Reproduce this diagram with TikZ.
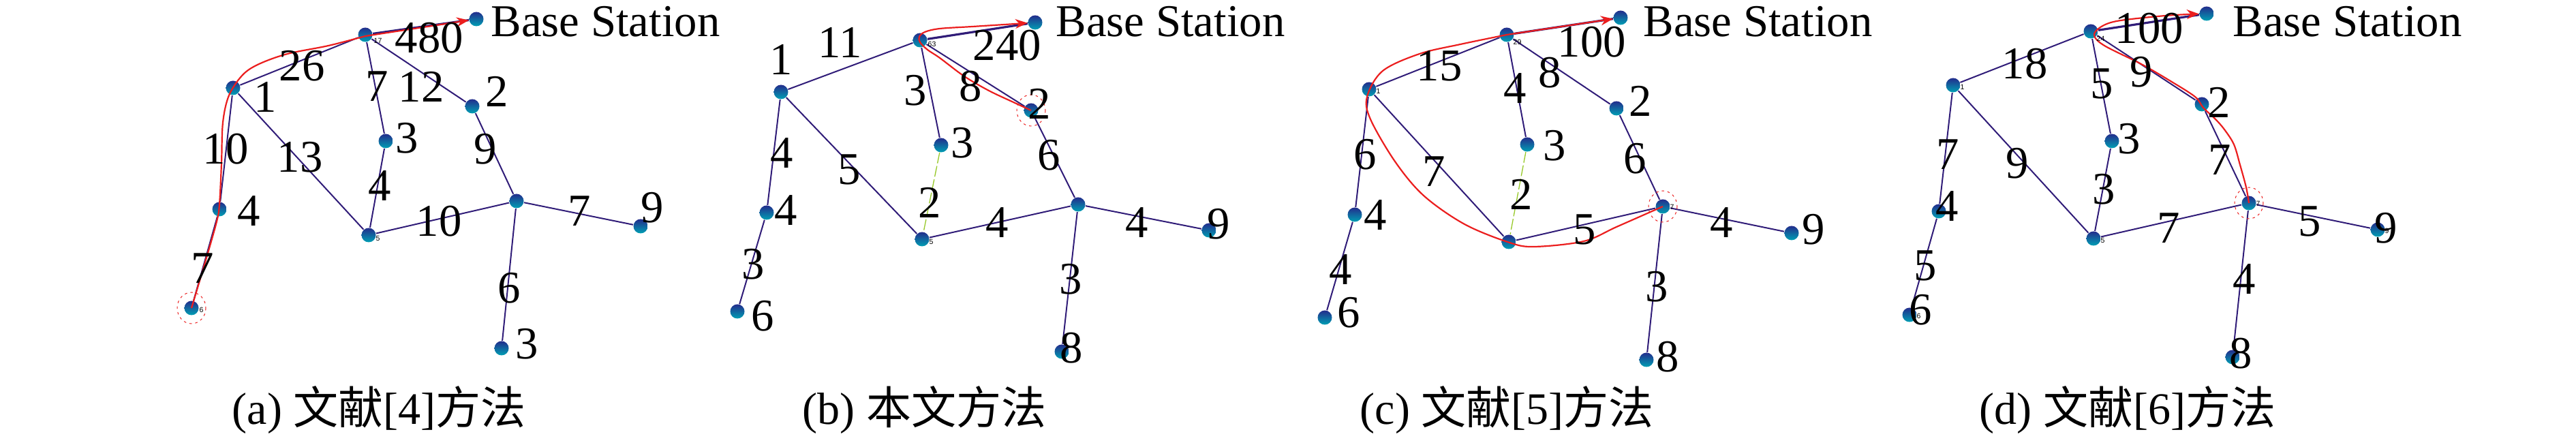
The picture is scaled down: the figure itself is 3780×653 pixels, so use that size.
\documentclass[tikz,border=0pt]{standalone}
\usepackage{fontspec}
\setmainfont{Liberation Serif}
\newfontfamily\cjkfont{Noto Sans CJK SC}
\newfontfamily\idfont{Liberation Sans}
\usetikzlibrary{arrows.meta}
\definecolor{edgecol}{RGB}{48,28,120}
\definecolor{routecol}{RGB}{235,30,30}
\definecolor{greenedge}{RGB}{150,200,40}
\definecolor{balltop}{RGB}{35,45,140}
\definecolor{ballmid}{RGB}{50,80,175}
\definecolor{ballbot}{RGB}{0,160,180}
\tikzset{
  sensor/.style={circle, inner sep=0pt, minimum size=2.1mm, top color=balltop, middle color=ballmid, bottom color=ballbot},
  link/.style={draw=edgecol, line width=0.2mm},
  bslink/.style={draw=edgecol, line width=0.32mm},
  glink/.style={draw=greenedge, line width=0.13mm, dash pattern=on 1.6mm off 0.4mm},
  route/.style={draw=routecol, line width=0.22mm, -{Stealth[length=1.8mm,width=1.4mm]}},
  srcring/.style={draw=routecol, line width=0.1mm, dash pattern=on 0.35mm off 0.5mm},
  lbl/.style={font=\fontsize{19}{19}\selectfont, inner sep=0pt},
  captext/.style={font=\fontsize{18.8}{18.8}\selectfont, inner sep=0pt},
  tid/.style={font=\idfont\fontsize{3}{3}\selectfont, inner sep=0pt}
}
\begin{document}
\begin{tikzpicture}[x=0.1mm,y=-0.1mm]
\useasboundingbox (0,0) rectangle (3780,653);

% ---------------- panel (a) ----------------
\node[sensor] (abs) at (699,28) {};
\node[sensor] (ah) at (536,51) {};
\node[sensor] (a1) at (342,129) {};
\node[sensor] (a4) at (322,307) {};
\node[sensor] (a6) at (281,452) {};
\node[sensor] (a2) at (693,156) {};
\node[sensor] (a3) at (566,207) {};
\node[sensor] (a5) at (541,345) {};
\node[sensor] (a7) at (758,295) {};
\node[sensor] (a9) at (940,332) {};
\node[sensor] (a8) at (736,511) {};
\path[bslink] (ah) -- (abs);
\path[link] (ah) -- (a1);
\path[link] (ah) -- (a3);
\path[link] (ah) -- (a2);
\path[link] (a1) -- (a4);
\path[link] (a1) -- (a5);
\path[link] (a4) -- (a6);
\path[link] (a3) -- (a5);
\path[link] (a2) -- (a7);
\path[link] (a5) -- (a7);
\path[link] (a7) -- (a9);
\path[link] (a7) -- (a8);
\path[route] plot[smooth, tension=0.55] coordinates {(a6.center) (301,385) (318,325) (322,300) (325,240) (327,180) (336,140) (356,110) (380,94) (422,79) (482,67) (536,53)} -- (abs);
\draw[srcring] (a6) ellipse (21 and 23);
\node[tid, anchor=west] (ta1) at (548,60) {17};
\node[tid, anchor=west] (ta2) at (292,455) {6};
\node[tid, anchor=west] (ta3) at (551,350) {5};
\node[lbl, anchor=base west] (absl) at (720,54) {Base Station};
\node[lbl] (la1) at (630,56) {480};
\node[lbl] (la2) at (443,97) {26};
\node[lbl] (la3) at (389,142) {1};
\node[lbl] (la4) at (553,127) {7};
\node[lbl] (la5) at (618,127) {12};
\node[lbl] (la6) at (729,134) {2};
\node[lbl] (la7) at (597,203) {3};
\node[lbl] (la8) at (331,219) {10};
\node[lbl] (la9) at (440,231) {13};
\node[lbl] (la10) at (712,219) {9};
\node[lbl] (la11) at (557,273) {4};
\node[lbl] (la12) at (365,310) {4};
\node[lbl] (la13) at (644,325) {10};
\node[lbl] (la14) at (850,310) {7};
\node[lbl] (la15) at (957,305) {9};
\node[lbl] (la16) at (297,394) {7};
\node[lbl] (la17) at (747,423) {6};
\node[lbl] (la18) at (773,505) {3};
\node[captext, anchor=base west] (capa) at (340,623) {(a) {\cjkfont 文献}[4]{\cjkfont 方法}};

% ---------------- panel (b) ----------------
\node[sensor] (bbs) at (1519,33) {};
\node[sensor] (bh) at (1350,59) {};
\node[sensor] (b1) at (1146,135) {};
\node[sensor] (b4) at (1125,312) {};
\node[sensor] (b6) at (1082,457) {};
\node[sensor] (b2) at (1513,162) {};
\node[sensor] (b3) at (1381,213) {};
\node[sensor] (b5) at (1353,351) {};
\node[sensor] (b7) at (1582,300) {};
\node[sensor] (b9) at (1774,338) {};
\node[sensor] (b8) at (1558,516) {};
\path[bslink] (bh) -- (bbs);
\path[link] (bh) -- (b1);
\path[link] (bh) -- (b3);
\path[link] (bh) -- (b2);
\path[link] (b1) -- (b4);
\path[link] (b1) -- (b5);
\path[link] (b4) -- (b6);
\path[glink] (b3) -- (b5);
\path[link] (b2) -- (b7);
\path[link] (b5) -- (b7);
\path[link] (b7) -- (b9);
\path[link] (b7) -- (b8);
\path[route] plot[smooth, tension=0.55] coordinates {(b2.center) (1487,150) (1451,133) (1415,112) (1379,85) (1361,73) (1350,62) (1349,54) (1357,47) (1379,42) (1427,39) (1490,35)} -- (bbs);
\draw[srcring] (b2) ellipse (21 and 23);
\node[tid, anchor=west] (tb1) at (1361,65) {63};
\node[tid, anchor=west] (tb2) at (1363,355) {5};
\node[lbl, anchor=base west] (bbsl) at (1549,54) {Base Station};
\node[lbl] (lb1) at (1233,62) {11};
\node[lbl] (lb2) at (1146,87) {1};
\node[lbl] (lb3) at (1478,67) {240};
\node[lbl] (lb4) at (1343,133) {3};
\node[lbl] (lb5) at (1424,127) {8};
\node[lbl] (lb6) at (1525,152) {2};
\node[lbl] (lb7) at (1412,210) {3};
\node[lbl] (lb8) at (1147,225) {4};
\node[lbl] (lb9) at (1246,249) {5};
\node[lbl] (lb10) at (1539,228) {6};
\node[lbl] (lb11) at (1364,297) {2};
\node[lbl] (lb12) at (1153,309) {4};
\node[lbl] (lb13) at (1463,327) {4};
\node[lbl] (lb14) at (1668,327) {4};
\node[lbl] (lb15) at (1788,329) {9};
\node[lbl] (lb16) at (1105,388) {3};
\node[lbl] (lb17) at (1119,464) {6};
\node[lbl] (lb18) at (1571,410) {3};
\node[lbl] (lb19) at (1572,511) {8};
\node[captext, anchor=base west] (capb) at (1177,623) {(b) {\cjkfont 本文方法}};

% ---------------- panel (c) ----------------
\node[sensor] (cbs) at (2378,26) {};
\node[sensor] (ch) at (2211,51) {};
\node[sensor] (c1) at (2009,131) {};
\node[sensor] (c4) at (1988,315) {};
\node[sensor] (c6) at (1944,466) {};
\node[sensor] (c2) at (2372,159) {};
\node[sensor] (c3) at (2241,212) {};
\node[sensor] (c5) at (2214,355) {};
\node[sensor] (c7) at (2440,303) {};
\node[sensor] (c9) at (2629,342) {};
\node[sensor] (c8) at (2416,528) {};
\path[bslink] (ch) -- (cbs);
\path[link] (ch) -- (c1);
\path[link] (ch) -- (c3);
\path[link] (ch) -- (c2);
\path[link] (c1) -- (c4);
\path[link] (c1) -- (c5);
\path[link] (c4) -- (c6);
\path[glink] (c3) -- (c5);
\path[link] (c2) -- (c7);
\path[link] (c5) -- (c7);
\path[link] (c7) -- (c9);
\path[link] (c7) -- (c8);
\path[route] plot[smooth, tension=0.55] coordinates {(c7.center) (2372,333) (2324,354) (2252,362) (2215,356) (2149,329) (2089,287) (2047,237) (2011,175) (2006,142) (2029,104) (2083,79) (2143,65) (2211,51)} -- (cbs);
\draw[srcring] (c7) ellipse (21 and 23);
\node[tid, anchor=west] (tc1) at (2220,62) {29};
\node[tid, anchor=west] (tc2) at (2019,134) {1};
\node[tid, anchor=west] (tc3) at (2450,304) {7};
\node[lbl, anchor=base west] (cbsl) at (2411,54) {Base Station};
\node[lbl] (lc1) at (2336,62) {100};
\node[lbl] (lc2) at (2112,97) {15};
\node[lbl] (lc3) at (2223,130) {4};
\node[lbl] (lc4) at (2274,107) {8};
\node[lbl] (lc5) at (2407,148) {2};
\node[lbl] (lc6) at (2281,214) {3};
\node[lbl] (lc7) at (2003,227) {6};
\node[lbl] (lc8) at (2104,252) {7};
\node[lbl] (lc9) at (2399,233) {6};
\node[lbl] (lc10) at (2232,285) {2};
\node[lbl] (lc11) at (2018,316) {4};
\node[lbl] (lc12) at (2325,337) {5};
\node[lbl] (lc13) at (2526,327) {4};
\node[lbl] (lc14) at (2661,337) {9};
\node[lbl] (lc15) at (1967,396) {4};
\node[lbl] (lc16) at (1979,459) {6};
\node[lbl] (lc17) at (2431,421) {3};
\node[lbl] (lc18) at (2447,524) {8};
\node[captext, anchor=base west] (capc) at (1995,623) {(c) {\cjkfont 文献}[5]{\cjkfont 方法}};

% ---------------- panel (d) ----------------
\node[sensor] (dbs) at (3238,20) {};
\node[sensor] (dh) at (3068,46) {};
\node[sensor] (d1) at (2866,125) {};
\node[sensor] (d4) at (2845,310) {};
\node[sensor] (d6) at (2802,462) {};
\node[sensor] (d2) at (3231,153) {};
\node[sensor] (d3) at (3099,207) {};
\node[sensor] (d5) at (3072,350) {};
\node[sensor] (d7) at (3300,298) {};
\node[sensor] (d9) at (3489,337) {};
\node[sensor] (d8) at (3276,524) {};
\path[bslink] (dh) -- (dbs);
\path[link] (dh) -- (d1);
\path[link] (dh) -- (d3);
\path[link] (dh) -- (d2);
\path[link] (d1) -- (d4);
\path[link] (d1) -- (d5);
\path[link] (d4) -- (d6);
\path[link] (d3) -- (d5);
\path[link] (d2) -- (d7);
\path[link] (d5) -- (d7);
\path[link] (d7) -- (d9);
\path[link] (d7) -- (d8);
\path[route] plot[smooth, tension=0.55] coordinates {(d7.center) (3296,275) (3287,242) (3278,212) (3264,190) (3251,175) (3233,158) (3221,142) (3185,119) (3142,94) (3088,67) (3073,52) (3082,40) (3106,31) (3166,24) (3210,21)} -- (dbs);
\draw[srcring] (d7) ellipse (21 and 23);
\node[tid, anchor=west] (td1) at (3076,57) {24};
\node[tid, anchor=west] (td2) at (2876,128) {1};
\node[tid, anchor=west] (td3) at (3082,353) {5};
\node[tid, anchor=west] (td4) at (2812,464) {6};
\node[tid, anchor=west] (td5) at (3310,299) {7};
\node[tid, anchor=west] (td6) at (3499,339) {9};
\node[lbl, anchor=base west] (dbsl) at (3276,54) {Base Station};
\node[lbl] (ld1) at (3154,42) {100};
\node[lbl] (ld2) at (2971,94) {18};
\node[lbl] (ld3) at (3084,123) {5};
\node[lbl] (ld4) at (3142,106) {9};
\node[lbl] (ld5) at (3256,150) {2};
\node[lbl] (ld6) at (3124,204) {3};
\node[lbl] (ld7) at (2858,227) {7};
\node[lbl] (ld8) at (2960,240) {9};
\node[lbl] (ld9) at (3257,235) {7};
\node[lbl] (ld10) at (3087,278) {3};
\node[lbl] (ld11) at (2857,303) {4};
\node[lbl] (ld12) at (3182,335) {7};
\node[lbl] (ld13) at (3389,325) {5};
\node[lbl] (ld14) at (3501,335) {9};
\node[lbl] (ld15) at (2825,390) {5};
\node[lbl] (ld16) at (3293,410) {4};
\node[lbl] (ld17) at (2818,455) {6};
\node[lbl] (ld18) at (3288,519) {8};
\node[captext, anchor=base west] (capd) at (2904,623) {(d) {\cjkfont 文献}[6]{\cjkfont 方法}};
\end{tikzpicture}
\end{document}
